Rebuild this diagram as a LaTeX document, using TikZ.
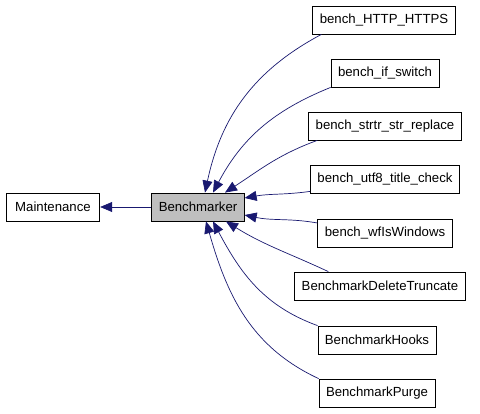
\documentclass[tikz,border=0pt]{standalone}
\usepackage{fontspec}
\setmainfont{Liberation Sans}
\usepackage{xcolor}
\usepackage{tikz}
\usetikzlibrary{calc,positioning,arrows.meta}
\definecolor{edgeblue}{RGB}{25,25,112}
\definecolor{curgray}{RGB}{191,191,191}

\begin{document}
\begin{tikzpicture}[x=1pt, y=1pt,
            cls/.style={draw=black, line width=0.8pt, fill=white, inner xsep=7pt,
                        minimum height=28pt, font=\fontsize{13.2}{16}\selectfont},
            cur/.style={cls, fill=curgray},
            inh/.style={draw=edgeblue, line width=0.7pt,
                        -{Triangle[length=12pt,width=10pt]}},
          ]
          \useasboundingbox (0,0) rectangle (480,413);

          % --- base and current class ---
          \node[cls, inner xsep=9pt] (maint) at (53,206) {Maintenance};
          \node[cur] (bm) at (198,206) {Benchmarker};

          % --- derived classes, right column ---
          \node[cls] (http)  at (384,393) {bench\_HTTP\_HTTPS};
          \node[cls] (ifsw)  at (385,340) {bench\_if\_switch};
          \node[cls] (strtr) at (385,287) {bench\_strtr\_str\_replace};
          \node[cls] (utf)   at (385,234) {bench\_utf8\_title\_check};
          \node[cls] (wfwin) at (385,180) {bench\_wfIsWindows};
          \node[cls] (deltr) at (380,127) {BenchmarkDeleteTruncate};
          \node[cls] (hooks) at (377,73)  {BenchmarkHooks};
          \node[cls] (purge) at (377,20)  {BenchmarkPurge};

          % --- inheritance edges ---
          \draw[inh] (bm) -- (maint);
          \draw[inh] ([xshift=9]http.south west) to[out=208,in=78] ([xshift=7]bm.north);
          \draw[inh] (ifsw.south west) to[out=202,in=62] ([xshift=15]bm.north);
          \draw[inh] ([xshift=9]strtr.south west) to[out=200,in=33] ([xshift=27]bm.north);
          \draw[inh] ([yshift=2]utf.south west) to[out=188,in=10] ([yshift=9]bm.east);
          \draw[inh] ([yshift=10]wfwin.west) to[out=170,in=-12] ([yshift=-8]bm.east);
          \draw[inh] ([xshift=34]deltr.north west) to[out=155,in=-32] ([xshift=28]bm.south);
          \draw[inh] (hooks.north west) to[out=160,in=-62] ([xshift=15]bm.south);
          \draw[inh] (purge.north west) to[out=155,in=-74] ([xshift=8]bm.south);
        \end{tikzpicture}
\end{document}
